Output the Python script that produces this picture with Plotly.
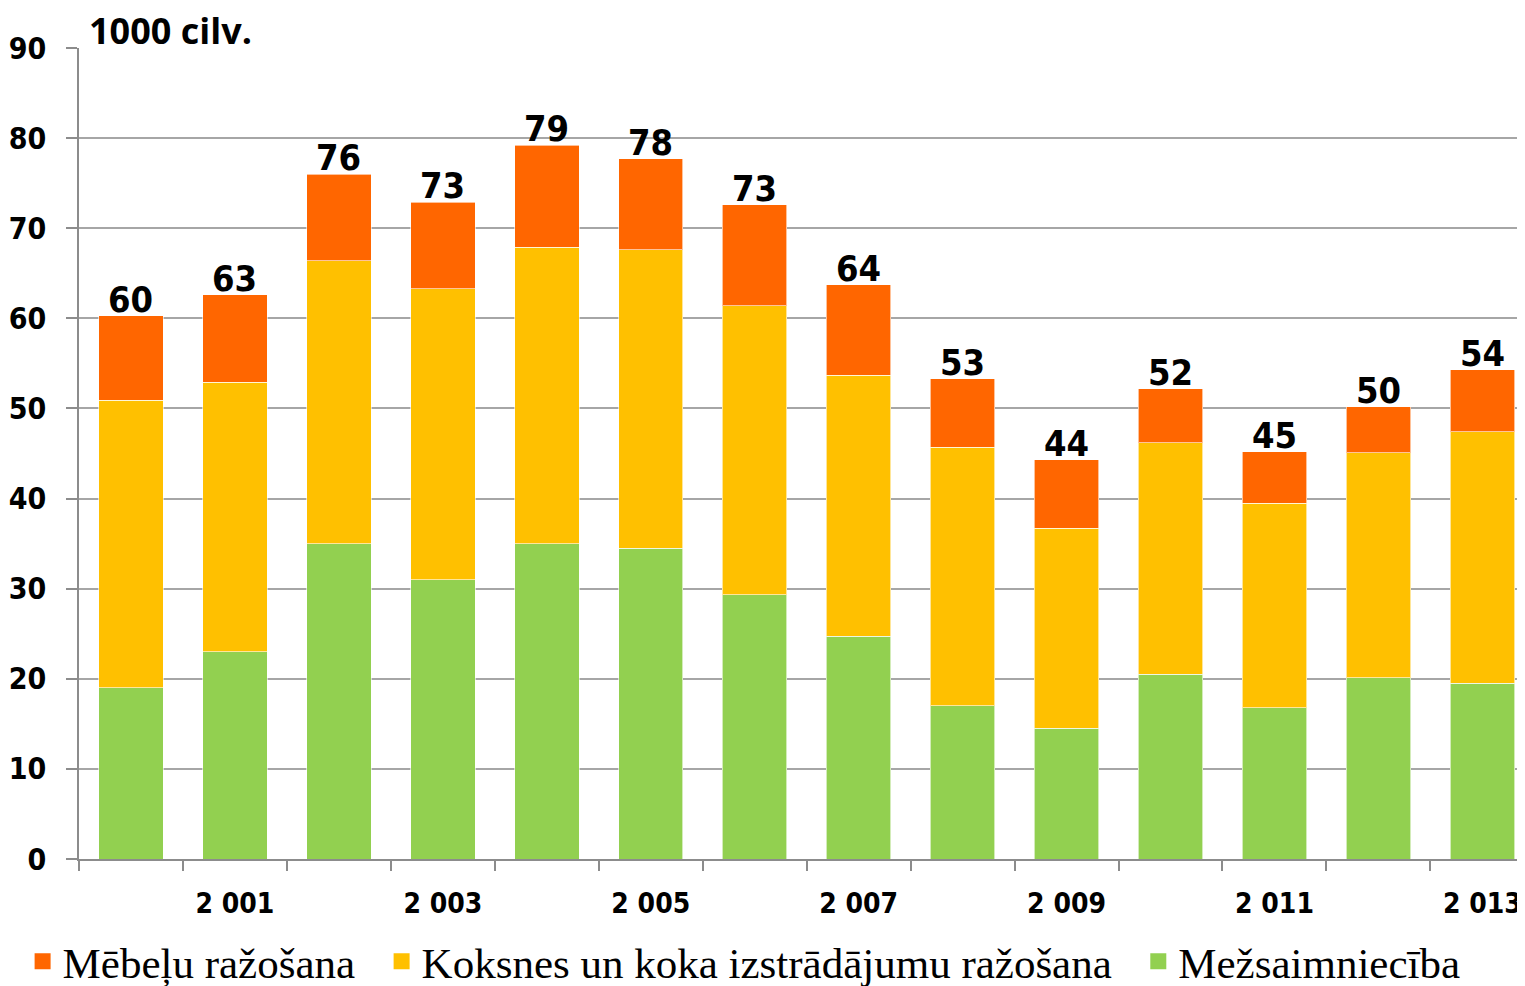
import plotly.graph_objects as go

years = list(range(2000, 2014))
mezsaimnieciba = [19.0, 23.0, 35.0, 31.0, 35.0, 34.5, 29.3, 24.7, 17.0, 14.5, 20.5, 16.8, 20.1, 19.5]
koksnes = [31.9, 29.9, 31.4, 32.3, 32.9, 33.1, 32.1, 29.0, 28.7, 22.2, 25.7, 22.7, 25.0, 27.9]
mebeles = [9.4, 9.7, 9.6, 9.6, 11.3, 10.1, 11.2, 10.0, 7.6, 7.6, 6.0, 5.7, 5.1, 6.9]
tick_years = [2001, 2003, 2005, 2007, 2009, 2011, 2013]
tick_text = ["2 001", "2 003", "2 005", "2 007", "2 009", "2 011", "2 013"]
names = ["Mežsaimniecība", "Koksnes un koka izstrādājumu ražošana", "Mēbeļu ražošana"]
colors = ["#92D050", "#FFC000", "#FF6600"]

narrow = "Liberation Sans Narrow, Noto Sans Condensed, DejaVu Sans Condensed, sans-serif"

def nfont(size):
    return dict(family=narrow, size=size, color="black", weight="bold")

fig = go.Figure()
for vals, name, col in zip([mezsaimnieciba, koksnes, mebeles], names, colors):
    fig.add_trace(go.Bar(x=years, y=vals, name=name, width=0.62, showlegend=False,
                         marker=dict(color=col, line=dict(color="rgba(255,255,255,0.6)", width=1))))

# legend entries (square swatches)
legend_pad = ["", "\u00a0\u00a0", "\u00a0\u00a0"]
for name, col, pad in zip(names, colors, legend_pad):
    fig.add_trace(go.Scatter(x=[None], y=[None], mode="markers", name=name + pad,
                             marker=dict(symbol="square", size=22, color=col),
                             showlegend=True, hoverinfo="skip"))

totals = [a + b + c for a, b, c in zip(mezsaimnieciba, koksnes, mebeles)]
for yr, t in zip(years, totals):
    fig.add_annotation(x=yr, y=t, text=f"{int(t + 0.5):d}", showarrow=False,
                       yanchor="bottom", yshift=-6, font=nfont(36))

fig.add_annotation(xref="paper", yref="paper", x=0, y=1, xshift=5, yshift=18,
                   xanchor="left", yanchor="middle",
                   text="1000 cilv.", showarrow=False, bgcolor="white",
                   borderpad=4,
                   font=dict(family="Open Sans, Lato, sans-serif", size=36, color="black",
                             weight="bold"))

fig.update_layout(
    barmode="stack",
    width=1525, height=986,
    margin=dict(l=71, r=8, t=40, b=135, autoexpand=False),
    plot_bgcolor="white", paper_bgcolor="white",
    legend=dict(orientation="h", traceorder="reversed", x=-0.039, xanchor="left",
                y=-0.126, yanchor="middle",
                font=dict(family="Liberation Serif, Times New Roman, serif", size=43, color="black"),
                tracegroupgap=0),
    xaxis=dict(range=[1999.5, 2013.41], tickmode="array", tickvals=tick_years, ticktext=tick_text,
               ticks="", showgrid=False, showline=True, linecolor="#8c8c8c", linewidth=1.5,
               tickfont=nfont(28),
               ticklabelstandoff=19, automargin=False, ticklabeloverflow="allow",
               minor=dict(tick0=1999.5, dtick=1, ticks="outside", ticklen=10,
                          tickcolor="#8c8c8c", tickwidth=1.5, showgrid=False),
               zeroline=False),
    yaxis=dict(range=[0, 90], tickmode="array", tickvals=list(range(0, 91, 10)),
               ticks="outside", ticklen=11, tickcolor="#8c8c8c", tickwidth=1.5,
               showgrid=True, gridcolor="#a6a6a6", gridwidth=1.5,
               showline=True, linecolor="#8c8c8c", linewidth=1.5,
               tickfont=nfont(30),
               ticklabelstandoff=14, zeroline=False, automargin=False),
)

fig.write_html("out.html")
